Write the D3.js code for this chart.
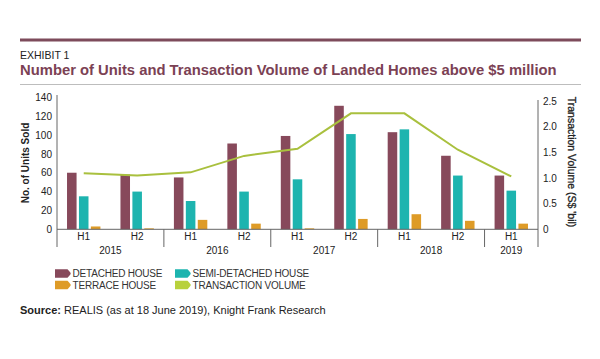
<!DOCTYPE html>
<html><head><meta charset="utf-8">
<script src="https://cdn.jsdelivr.net/npm/d3@7"></script>
<style>body{margin:0;background:#fff}svg{display:block}text{font-family:"Liberation Sans",Arial,sans-serif}</style>
</head><body>
<svg id="c" width="600" height="359"></svg>
<script>
const periods = ["2015H1","2015H2","2016H1","2016H2","2017H1","2017H2","2018H1","2018H2","2019H1"];
const halfLabels = ["H1","H2","H1","H2","H1","H2","H1","H2","H1"];
const years = ["2015","2016","2017","2018","2019"];
const yearSpans = [[0,2],[2,4],[4,6],[6,8],[8,9]];
const detached = [60, 58, 55, 91, 99, 131, 103, 78, 57];
const semiDetached = [35, 40, 30, 40, 53, 101, 106, 57, 41];
const terrace = [3, 1, 10, 6, 1, 11, 16, 9, 6];
const volume = [1.09, 1.05, 1.11, 1.43, 1.57, 2.26, 2.26, 1.55, 1.03];
const leftTicks = [0,20,40,60,80,100,120,140];
const rightTicks = [0,0.5,1.0,1.5,2.0,2.5];
const seriesNames = ["DETACHED HOUSE","SEMI-DETACHED HOUSE","TERRACE HOUSE","TRANSACTION VOLUME"];

const colors = {det:"#87495b", semi:"#1db4af", ter:"#de9b27", vol:"#a9c03e", volLeg:"#b8d13c"};
const svg = d3.select("#c");

// header
svg.append("rect").attr("x",20).attr("y",38.5).attr("width",561).attr("height",3).attr("fill","#7d4b5b");
svg.append("text").attr("x",20).attr("y",58.5).attr("font-size",10.5).attr("fill","#222").text("EXHIBIT 1");
svg.append("text").attr("x",20).attr("y",74.5).attr("font-size",14.8).attr("font-weight","bold").attr("fill","#7b4154")
  .text("Number of Units and Transaction Volume of Landed Homes above $5 million");
svg.append("rect").attr("x",20).attr("y",84).attr("width",561).attr("height",1).attr("fill","#bdbdbd");

const x0 = 57, x1 = 538, yBase = 229.3;
const x = d3.scaleBand().domain(periods).range([x0,x1]).padding(0);
const yL = d3.scaleLinear().domain([0,140]).range([yBase,97.3]);
const yR = d3.scaleLinear().domain([0,2.5]).range([yBase,101]);
const inner = d3.scaleBand().domain(["det","semi","ter"]).range([-16.7,16.7]).paddingInner(0.2).paddingOuter(0);

const bars = [["det",detached],["semi",semiDetached],["ter",terrace]];
bars.forEach(([k,vals])=>{
  svg.append("g").selectAll("rect").data(vals).join("rect")
    .attr("x",(d,i)=>x(periods[i])+x.bandwidth()/2+inner(k))
    .attr("width",inner.bandwidth())
    .attr("y",d=>yL(d)).attr("height",d=>yBase-yL(d))
    .attr("fill",colors[k]);
});

// line
const line = d3.line().x((d,i)=>x(periods[i])+x.bandwidth()/2).y(d=>yR(d));
svg.append("path").datum(volume).attr("d",line).attr("fill","none").attr("stroke",colors.vol).attr("stroke-width",2);

// axes
const axisColor = "#666";
const gL = svg.append("g").attr("transform",`translate(${x0},0)`)
  .call(d3.axisLeft(yL).tickValues(leftTicks).tickSize(0).tickPadding(5));
gL.select(".domain").remove();
gL.selectAll("text").attr("font-size",10).attr("fill","#222").attr("font-family","Liberation Sans, Arial, sans-serif");
svg.append("line").attr("x1",x0).attr("x2",x0).attr("y1",95).attr("y2",247).attr("stroke",axisColor);

const gR = svg.append("g").attr("transform",`translate(${x1},0)`)
  .call(d3.axisRight(yR).tickValues(rightTicks).tickSize(0).tickPadding(5).tickFormat(d=>d===0?"0":d3.format(".1f")(d)));
gR.select(".domain").remove();
gR.selectAll("text").attr("font-size",10).attr("fill","#222").attr("font-family","Liberation Sans, Arial, sans-serif");
svg.append("line").attr("x1",x1).attr("x2",x1).attr("y1",100).attr("y2",247).attr("stroke",axisColor);

svg.append("line").attr("x1",x0).attr("x2",x1).attr("y1",yBase).attr("y2",yBase).attr("stroke",axisColor);

// bottom category axis
const gB = svg.append("g").attr("transform",`translate(0,${yBase})`)
  .call(d3.axisBottom(x).tickSize(0).tickPadding(4).tickFormat((d,i)=>halfLabels[i]));
gB.select(".domain").remove();
gB.selectAll("text").attr("font-size",10).attr("fill","#222").attr("font-family","Liberation Sans, Arial, sans-serif");

yearSpans.forEach(([a,b],i)=>{
  const xa = x(periods[a]);
  if(a>0) svg.append("line").attr("x1",xa).attr("x2",xa).attr("y1",yBase).attr("y2",247).attr("stroke",axisColor);
  const xb = b<periods.length ? x(periods[b]) : x1;
  svg.append("text").attr("x",(xa+xb)/2).attr("y",253.5).attr("text-anchor","middle")
    .attr("font-size",10).attr("fill","#222").text(years[i]);
});

// axis titles
svg.append("text").attr("transform","translate(29,163) rotate(-90)").attr("text-anchor","middle")
  .attr("font-size",10).attr("font-weight","bold").attr("fill","#222").text("No. of Units Sold");
svg.append("text").attr("transform","translate(568,162) rotate(90)").attr("text-anchor","middle")
  .attr("font-size",10.5).attr("fill","#222").attr("stroke","#222").attr("stroke-width",0.3).text("Transaction Volume (S$ 'bil)");

// legend
const legItems = [
  {name:seriesNames[0], c:colors.det, x:55, y:273.5},
  {name:seriesNames[1], c:colors.semi, x:175, y:273.5},
  {name:seriesNames[2], c:colors.ter, x:55, y:285},
  {name:seriesNames[3], c:colors.volLeg, x:175, y:285}
];
const lg = svg.append("g").selectAll("g").data(legItems).join("g").attr("transform",d=>`translate(${d.x},${d.y})`);
lg.append("path").attr("d","M0,-4.2H12.5Q15.7,-1 15.7,0Q15.7,1 12.5,4.2H0Z").attr("fill",d=>d.c);
lg.append("text").attr("x",17.5).attr("y",3.6).attr("font-size",10).attr("letter-spacing",-0.2).attr("fill","#333").text(d=>d.name);

// source
const src = svg.append("text").attr("x",20).attr("y",314).attr("font-size",11).attr("fill","#222");
src.append("tspan").attr("font-weight","bold").text("Source:");
src.append("tspan").text(" REALIS (as at 18 June 2019), Knight Frank Research");
</script>
</body></html>
